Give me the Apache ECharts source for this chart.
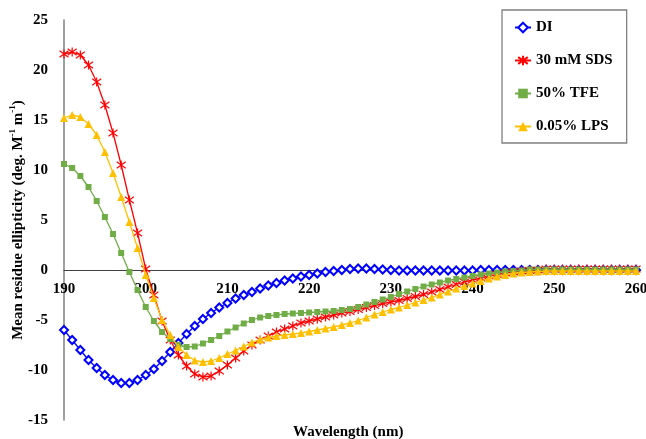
<!DOCTYPE html>
<html>
<head>
<meta charset="utf-8">
<script src="https://cdn.jsdelivr.net/npm/echarts@6/dist/echarts.min.js"></script>
<style>
html,body{margin:0;padding:0;background:#fff;}
#chart{width:646px;height:439px;}
</style>
</head>
<body>
<div id="chart"></div>
<script>
var wavelengths = [190,191,192,193,194,195,196,197,198,199,200,201,202,203,204,205,206,207,208,209,210,211,212,213,214,215,216,217,218,219,220,221,222,223,224,225,226,227,228,229,230,231,232,233,234,235,236,237,238,239,240,241,242,243,244,245,246,247,248,249,250,251,252,253,254,255,256,257,258,259,260];

var diValues = [-6.0,-7.0,-8.0,-9.0,-9.8,-10.5,-11.0,-11.3,-11.3,-11.0,-10.5,-9.9,-9.1,-8.2,-7.3,-6.4,-5.6,-4.9,-4.3,-3.75,-3.3,-2.85,-2.5,-2.2,-1.85,-1.55,-1.3,-1.05,-0.85,-0.65,-0.5,-0.35,-0.2,-0.1,0.0,0.1,0.15,0.15,0.1,0.05,0.0,-0.05,-0.05,-0.05,-0.05,-0.05,-0.05,-0.05,-0.05,-0.05,-0.05,0.0,0.0,0.0,0.0,0.0,0.0,0.0,0.0,0.0,0.0,0.0,0.0,0.0,0.0,0.0,0.0,0.0,0.0,0.0,0.0];

var sdsValues = [21.6,21.8,21.5,20.5,18.8,16.5,13.7,10.5,7.0,3.7,0.1,-2.5,-5.1,-7.0,-8.5,-9.6,-10.4,-10.7,-10.6,-10.1,-9.5,-8.8,-8.1,-7.5,-7.0,-6.6,-6.2,-5.9,-5.6,-5.3,-5.1,-4.9,-4.7,-4.5,-4.3,-4.15,-3.95,-3.75,-3.55,-3.35,-3.2,-3.05,-2.85,-2.65,-2.45,-2.2,-1.95,-1.7,-1.45,-1.2,-1.0,-0.8,-0.6,-0.45,-0.3,-0.2,-0.1,-0.05,0.0,0.1,0.1,0.1,0.1,0.1,0.1,0.1,0.1,0.1,0.1,0.1,0.1];

var tfeValues = [10.6,10.2,9.4,8.3,6.9,5.3,3.6,1.7,-0.2,-2.0,-3.7,-5.1,-6.2,-6.9,-7.5,-7.7,-7.65,-7.35,-7.0,-6.6,-6.15,-5.75,-5.35,-5.0,-4.75,-4.6,-4.5,-4.4,-4.35,-4.3,-4.25,-4.2,-4.15,-4.1,-4.0,-3.9,-3.7,-3.45,-3.2,-2.95,-2.7,-2.4,-2.15,-1.9,-1.65,-1.45,-1.25,-1.05,-0.9,-0.75,-0.6,-0.45,-0.35,-0.25,-0.15,-0.1,-0.05,0.05,0.05,0.05,0.05,0.05,0.05,0.05,0.05,0.05,0.05,0.05,0.05,0.05,0.05];

var lpsValues = [15.2,15.5,15.3,14.6,13.5,11.8,9.7,7.3,4.8,2.2,-0.5,-2.8,-5.0,-6.5,-7.7,-8.5,-9.05,-9.2,-9.1,-8.8,-8.4,-8.05,-7.65,-7.25,-6.95,-6.75,-6.6,-6.5,-6.4,-6.3,-6.15,-6.0,-5.85,-5.7,-5.5,-5.3,-5.05,-4.75,-4.45,-4.2,-3.95,-3.75,-3.5,-3.25,-3.0,-2.75,-2.45,-2.15,-1.85,-1.6,-1.35,-1.1,-0.85,-0.65,-0.5,-0.35,-0.25,-0.2,-0.15,-0.1,-0.1,-0.1,-0.1,-0.1,-0.1,-0.1,-0.1,-0.1,-0.1,-0.1,-0.1];

var seriesNames = ['DI', '30 mM SDS', '50% TFE', '0.05% LPS'];
var xTicks = [190,200,210,220,230,240,250,260];
var yTicks = [-15,-10,-5,0,5,10,15,20,25];

function pairs(vals){ return wavelengths.map(function(w,i){ return [w, vals[i]]; }); }

var FONT = '"Liberation Serif", "Times New Roman", serif';
var chart = echarts.init(document.getElementById('chart'), null, {renderer:'canvas'});
var asterisk = 'path://M1.5,1.5L8.5,8.5M8.5,1.5L1.5,8.5M5,0L5,10';

var gridTop = 20, gridBottom = 19, plotH = 439 - gridTop - gridBottom;
var yMin = yTicks[0], yMax = yTicks[yTicks.length-1];
var zeroOffset = -plotH * (0 - yMin) / (yMax - yMin);

chart.setOption({
  animation: false,
  backgroundColor: '#ffffff',
  grid: {left: 64, right: 10, top: gridTop, bottom: gridBottom, containLabel: false, outerBoundsMode: 'none'},
  xAxis: {
    type: 'value',
    min: xTicks[0], max: xTicks[xTicks.length-1], interval: 10,
    position: 'bottom',
    offset: zeroOffset,
    axisLine: {onZero: false, lineStyle: {color: '#404040', width: 1}},
    axisTick: {show: false},
    splitLine: {show: false},
    axisLabel: {fontFamily: FONT, fontWeight: 'bold', fontSize: 15, color: '#000', margin: 12}
  },
  yAxis: {
    type: 'value',
    min: yMin, max: yMax, interval: 5,
    axisLine: {show: true, onZero: false, lineStyle: {color: '#808080', width: 1.5}},
    axisTick: {show: false},
    splitLine: {show: false},
    axisLabel: {fontFamily: FONT, fontWeight: 'bold', fontSize: 15, color: '#000', margin: 16},
    name: '{b|Mean residue ellipticity (deg. M}{s|-1}{b| m}{s|-1}{b|)}',
    nameLocation: 'middle',
    nameRotate: 90,
    nameGap: 38,
    nameMoveOverlap: false,
    nameTextStyle: {
      rich: {
        b: {fontFamily: FONT, fontWeight: 'bold', fontSize: 15, color: '#000', lineHeight: 18, verticalAlign: 'bottom'},
        s: {fontFamily: FONT, fontWeight: 'bold', fontSize: 9, color: '#000', lineHeight: 18, verticalAlign: 'top'}
      }
    }
  },
  legend: {
    orient: 'vertical',
    left: 502, top: 10,
    padding: [10, 14, 9, 12],
    itemGap: 18,
    itemWidth: 16, itemHeight: 12,
    borderColor: '#808080', borderWidth: 1.3,
    textStyle: {fontFamily: FONT, fontWeight: 'bold', fontSize: 15, color: '#000'},
    data: seriesNames
  },
  graphic: [{
    type: 'text', left: 350 - 57, top: 425,
    style: {text: 'Wavelength (nm)', font: 'bold 15px "Liberation Serif", serif', fill: '#000'}
  }],
  series: [
    {name: seriesNames[0], type: 'line', data: pairs(diValues), symbol: 'emptyDiamond', symbolSize: 8,
     lineStyle: {color: '#0000FF', width: 1.3}, itemStyle: {color: '#0000FF', borderWidth: 1.5}, z: 2},
    {name: seriesNames[1], type: 'line', data: pairs(sdsValues), symbol: asterisk, symbolSize: 9,
     lineStyle: {color: '#FF0000', width: 1.3}, itemStyle: {color: '#FF0000', borderColor: '#FF0000', borderWidth: 1.2}, z: 3},
    {name: seriesNames[2], type: 'line', data: pairs(tfeValues), symbol: 'rect', symbolSize: 6,
     lineStyle: {color: '#70AD47', width: 1.3}, itemStyle: {color: '#70AD47'}, z: 4},
    {name: seriesNames[3], type: 'line', data: pairs(lpsValues), symbol: 'triangle', symbolSize: 8,
     lineStyle: {color: '#FFC000', width: 1.3}, itemStyle: {color: '#FFC000'}, z: 5}
  ]
});
</script>
</body>
</html>
